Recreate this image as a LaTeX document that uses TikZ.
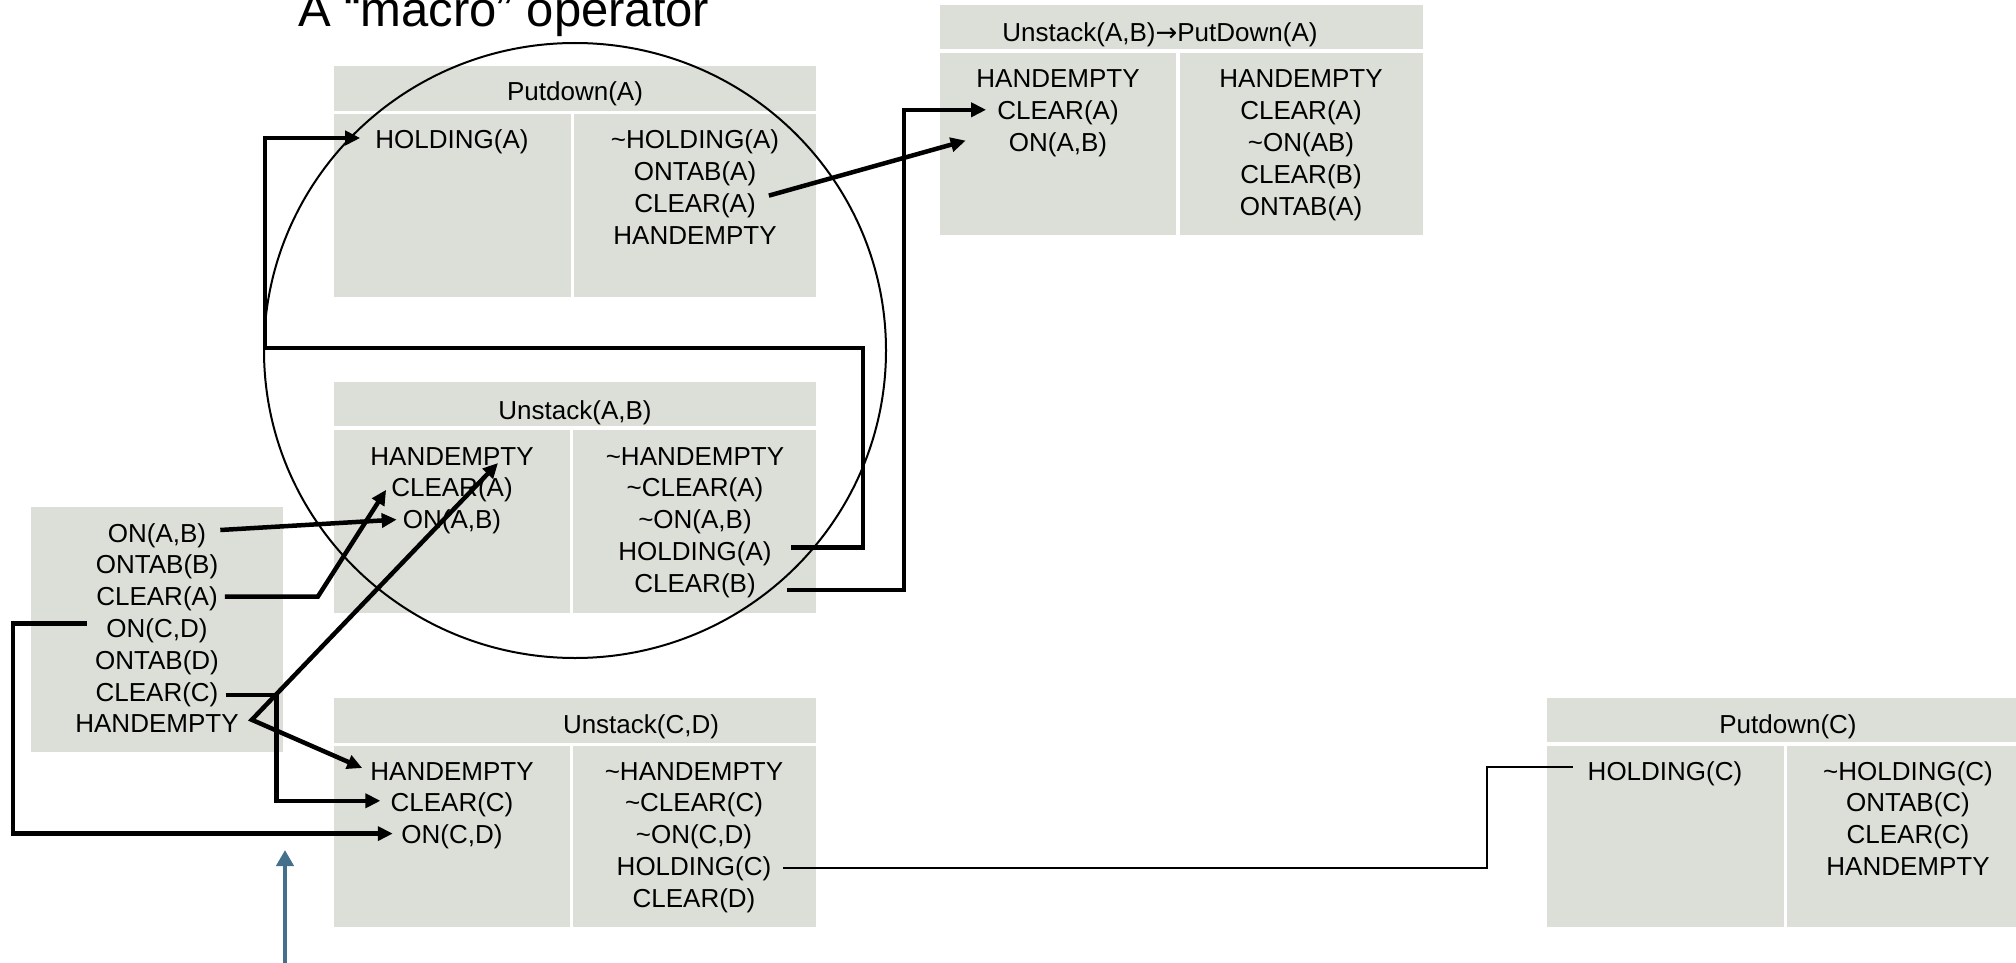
\documentclass[tikz,border=0pt]{standalone}
\usepackage{fontspec}
\setmainfont{Liberation Sans}
\newfontfamily\arrowfont{DejaVu Sans}
\usetikzlibrary{arrows.meta,calc}
\definecolor{cellgray}{RGB}{219,223,216}
\definecolor{pointer}{RGB}{68,112,140}

\begin{document}
\begin{tikzpicture}[x=1pt,y=-1pt,
  cell/.style={fill=cellgray,draw=none},
  lbl/.style={font=\fontsize{26}{31.8}\selectfont, anchor=base, inner sep=0pt},
  tipA/.tip={Triangle[length=15pt,width=14pt]},
  conn/.style={line width=4.5pt, line join=miter, -tipA},
  thinline/.style={line width=2pt},
]
\useasboundingbox (0,0) rectangle (2016,963);
\clip (0,0) rectangle (2016,963);
\fill[white] (0,0) rectangle (2016,963);

% ---------- table cells ----------
% Putdown(A)
\fill[cell] (334,66) rectangle (816,111);
\fill[cell] (334,114) rectangle (571,297);
\fill[cell] (574,114) rectangle (816,297);
% Unstack(A,B) -> PutDown(A)
\fill[cell] (940,5) rectangle (1423,49);
\fill[cell] (940,53) rectangle (1176,235);
\fill[cell] (1180,53) rectangle (1423,235);
% Unstack(A,B)
\fill[cell] (334,382) rectangle (816,426);
\fill[cell] (334,430) rectangle (570,613);
\fill[cell] (573,430) rectangle (816,613);
% initial state
\fill[cell] (31,507) rectangle (283,752);
% Unstack(C,D)
\fill[cell] (334,698) rectangle (816,743);
\fill[cell] (334,746) rectangle (570,927);
\fill[cell] (573,746) rectangle (816,927);
% Putdown(C)
\fill[cell] (1547,698) rectangle (2029,742);
\fill[cell] (1547,746) rectangle (1784,927);
\fill[cell] (1787,746) rectangle (2029,927);

% ---------- macro boundary ----------
\draw[thinline] (575,350.5) ellipse [x radius=311, y radius=307.5];

% ---------- title ----------
\node[anchor=base west, inner sep=0pt, font=\fontsize{49}{52}\selectfont] (title) at (298,27) {A “macro” operator};

% ---------- Putdown(A) ----------
\node[lbl] (pa-h) at (575,101) {Putdown(A)};
\node[lbl] (pa-l1) at (452,149) {HOLDING(A)};
\node[lbl] (pa-r1) at (695,149) {\textasciitilde HOLDING(A)};
\node[lbl] (pa-r2) at (695,180.8) {ONTAB(A)};
\node[lbl] (pa-r3) at (695,212.6) {CLEAR(A)};
\node[lbl] (pa-r4) at (695,244.4) {HANDEMPTY};

% ---------- Unstack(A,B) -> PutDown(A) ----------
\node[lbl] (mac-h) at (1160,42) {Unstack(A,B){\arrowfont →}PutDown(A)};
\node[lbl] (mac-l1) at (1058,88) {HANDEMPTY};
\node[lbl] (mac-l2) at (1058,119.8) {CLEAR(A)};
\node[lbl] (mac-l3) at (1058,151.6) {ON(A,B)};
\node[lbl] (mac-r1) at (1301,88) {HANDEMPTY};
\node[lbl] (mac-r2) at (1301,119.8) {CLEAR(A)};
\node[lbl] (mac-r3) at (1301,151.6) {\textasciitilde ON(AB)};
\node[lbl] (mac-r4) at (1301,183.4) {CLEAR(B)};
\node[lbl] (mac-r5) at (1301,215.2) {ONTAB(A)};

% ---------- Unstack(A,B) ----------
\node[lbl] (uab-h) at (575,419) {Unstack(A,B)};
\node[lbl] (uab-l1) at (452,465) {HANDEMPTY};
\node[lbl] (uab-l2) at (452,496.8) {CLEAR(A)};
\node[lbl] (uab-l3) at (452,528.6) {ON(A,B)};
\node[lbl] (uab-r1) at (695,465) {\textasciitilde HANDEMPTY};
\node[lbl] (uab-r2) at (695,496.8) {\textasciitilde CLEAR(A)};
\node[lbl] (uab-r3) at (695,528.6) {\textasciitilde ON(A,B)};
\node[lbl] (uab-r4) at (695,560.4) {HOLDING(A)};
\node[lbl] (uab-r5) at (695,592.2) {CLEAR(B)};

% ---------- initial state ----------
\node[lbl] (ini-1) at (157,542) {ON(A,B)};
\node[lbl] (ini-2) at (157,573.8) {ONTAB(B)};
\node[lbl] (ini-3) at (157,605.6) {CLEAR(A)};
\node[lbl] (ini-4) at (157,637.4) {ON(C,D)};
\node[lbl] (ini-5) at (157,669.2) {ONTAB(D)};
\node[lbl] (ini-6) at (157,701) {CLEAR(C)};
\node[lbl] (ini-7) at (157,732.8) {HANDEMPTY};

% ---------- Unstack(C,D) ----------
\node[lbl] (ucd-h) at (641,733) {Unstack(C,D)};
\node[lbl] (ucd-l1) at (452,780) {HANDEMPTY};
\node[lbl] (ucd-l2) at (452,811.8) {CLEAR(C)};
\node[lbl] (ucd-l3) at (452,843.6) {ON(C,D)};
\node[lbl] (ucd-r1) at (694,780) {\textasciitilde HANDEMPTY};
\node[lbl] (ucd-r2) at (694,811.8) {\textasciitilde CLEAR(C)};
\node[lbl] (ucd-r3) at (694,843.6) {\textasciitilde ON(C,D)};
\node[lbl] (ucd-r4) at (694,875.4) {HOLDING(C)};
\node[lbl] (ucd-r5) at (694,907.2) {CLEAR(D)};

% ---------- Putdown(C) ----------
\node[lbl] (pc-h) at (1788,733) {Putdown(C)};
\node[lbl] (pc-l1) at (1665,780) {HOLDING(C)};
\node[lbl] (pc-r1) at (1908,780) {\textasciitilde HOLDING(C)};
\node[lbl] (pc-r2) at (1908,811.8) {ONTAB(C)};
\node[lbl] (pc-r3) at (1908,843.6) {CLEAR(C)};
\node[lbl] (pc-r4) at (1908,875.4) {HANDEMPTY};

% ---------- connectors ----------
% CLEAR(A) of Putdown(A) feeds ON(A,B) of the macro
\draw[conn] ($(pa-r3.base east)+(13,-17)$) -- ($(mac-l3.base west)+(-43,-11)$);
% CLEAR(B) of Unstack(A,B) feeds CLEAR(A) of the macro
\draw[conn] ($(uab-r5.base east)+(31,-2)$) -- ++(117,0) |- ($(mac-l2.base west)+(-11,-10)$);
% HOLDING(A) loops back into Putdown(A)
\draw[conn] ($(uab-r4.base east)+(19,-13)$) -| (863,348) -| (265,138) -- ($(pa-l1.base west)+(-15,-11)$);
% initial state into Unstack(A,B)
\draw[conn] ($(ini-1.base east)+(14,-12)$) -- ($(uab-l3.base west)+(-6,-9)$);
\draw[conn] ($(ini-3.base east)+(7,-9)$) -- ++(93,0) -- ($(uab-l2.base west)+(-5,-7)$);
% HANDEMPTY splits to both unstack operators
\draw[conn, tipA-tipA] ($(uab-l1.base)+(46,-2)$) -- ($(ini-7.base east)+(13,-13)$) -- ($(ucd-l1.base west)+(-8,-12)$);
% initial state into Unstack(C,D)
\draw[conn] ($(ini-6.base east)+(7,-6)$) -- ++(51,0) |- ($(ucd-l2.base west)+(-10,-11)$);
\draw[conn] ($(ini-4.base west)+(-19.5,-14)$) -- ++(-74,0) |- ($(ucd-l3.base west)+(-8.5,-10)$);
% HOLDING(C) link to Putdown(C)
\coordinate (pc-in) at ($(pc-l1.base west)+(-15,-13)$);
\draw[thinline] ($(ucd-r4.base east)+(12,-7)$) -| ($(pc-in)+(-86,0)$) -- (pc-in);

% ---------- pointer arrow ----------
\coordinate (ptr-foot) at (285,963);
\coordinate (ptr-tip) at (285,850);
\draw[line width=4.7pt, pointer, -{Triangle[length=16pt,width=17pt]}] (ptr-foot) -- (ptr-tip);
\end{tikzpicture}
\end{document}
